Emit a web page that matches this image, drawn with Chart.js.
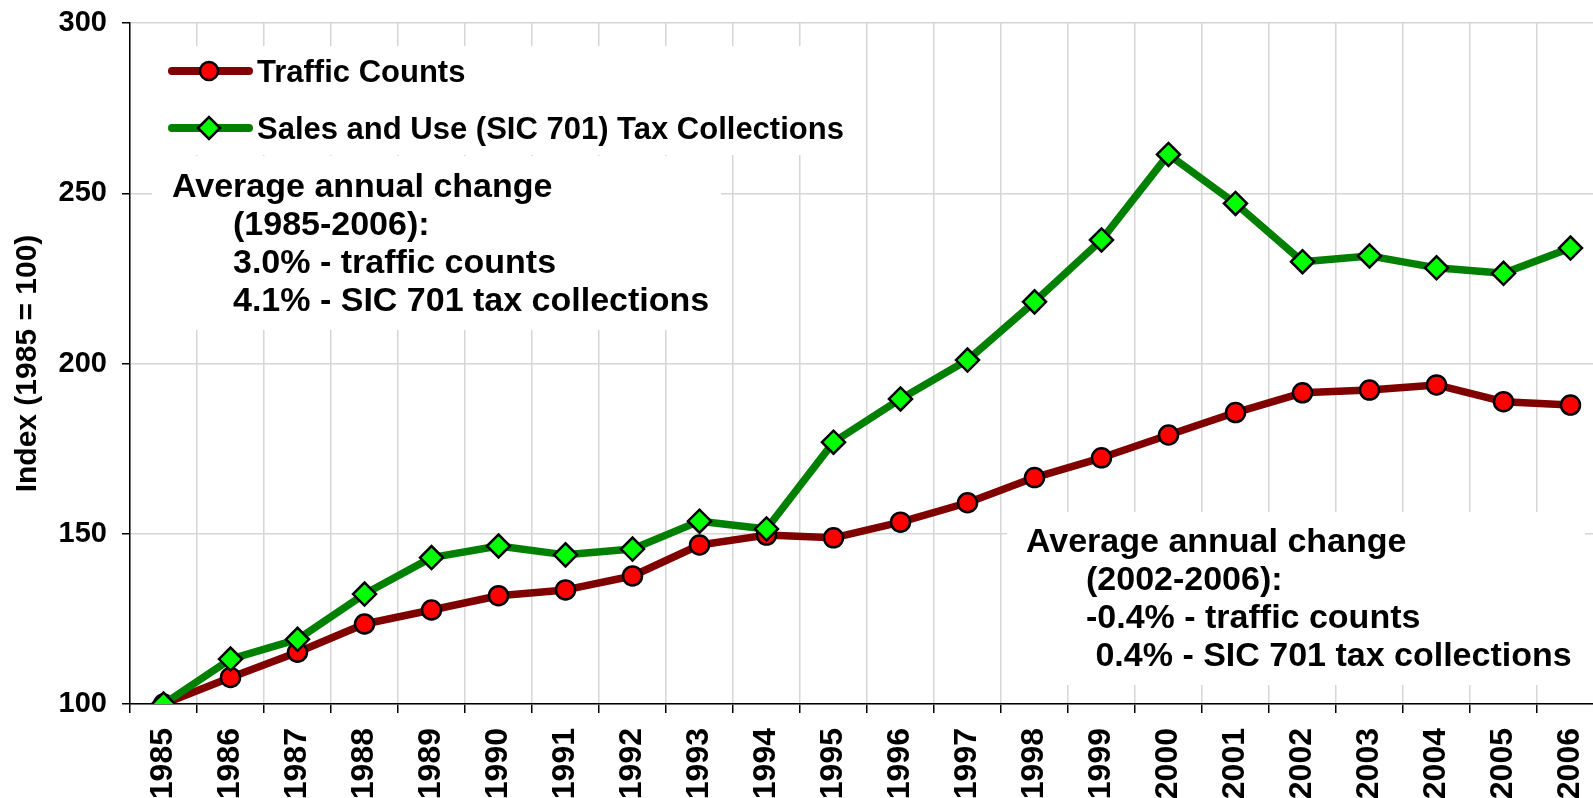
<!DOCTYPE html>
<html>
<head>
<meta charset="utf-8">
<script src="https://cdn.jsdelivr.net/npm/chart.js@4.4.0/dist/chart.umd.min.js"></script>
<style>
  html, body { margin: 0; padding: 0; background: #fff; overflow: hidden; }
</style>
</head>
<body>
<canvas id="indexChart" width="1604" height="798"></canvas>
<script>
// values (1985 = 100)
const years = ['1985', '1986', '1987', '1988', '1989', '1990', '1991', '1992', '1993', '1994', '1995',
  '1996', '1997', '1998', '1999', '2000', '2001', '2002', '2003', '2004', '2005', '2006'];
const trafficCounts = [100, 107.8, 115.2, 123.5, 127.6, 131.8, 133.5, 137.6, 146.7, 149.6, 148.8,
  153.4, 159.1, 166.5, 172.3, 179.0, 185.6, 191.4, 192.2, 193.7, 188.8, 187.8];
const salesTax = [100, 113.2, 119.0, 132.3, 143.0, 146.4, 143.8, 145.5, 153.7, 151.4, 176.9,
  189.6, 201.0, 218.1, 236.3, 261.4, 247.0, 229.9, 231.6, 228.1, 226.5, 233.9];
const seriesNames = ['Traffic Counts', 'Sales and Use (SIC 701) Tax Collections'];
const yTitle = 'Index (1985 = 100)';
const yMin = 100, yMax = 300, yStep = 50;

const noteLong = ['Average annual change', '(1985-2006):', '3.0% - traffic counts', '4.1% - SIC 701 tax collections'];
const noteShort = ['Average annual change', '(2002-2006):', '-0.4% - traffic counts', ' 0.4% - SIC 701 tax collections'];

const axisFont = 'Arial, "Liberation Sans", sans-serif';

// draw a marker the same way for the legend
function marker(ctx, style, x, y, r, fill) {
  ctx.beginPath();
  if (style === 'circle') {
    ctx.arc(x, y, r, 0, Math.PI * 2);
  } else {
    ctx.moveTo(x - r, y);
    ctx.lineTo(x, y - r);
    ctx.lineTo(x + r, y);
    ctx.lineTo(x, y + r);
    ctx.closePath();
  }
  ctx.fillStyle = fill;
  ctx.fill();
  ctx.lineWidth = 2.5;
  ctx.strokeStyle = '#000';
  ctx.stroke();
}

function writeNote(ctx, lines, x, y, indent) {
  ctx.font = 'bold 34px ' + axisFont;
  ctx.fillStyle = '#000';
  ctx.textBaseline = 'alphabetic';
  ctx.textAlign = 'left';
  lines.forEach((t, i) => {
    ctx.fillText(t, i === 0 ? x : x + indent, y + i * 38);
  });
}

// white boxes for the legend and the two notes, drawn over the grid
const boxes = {
  id: 'boxes',
  beforeDatasetsDraw(chart) {
    const ctx = chart.ctx;
    ctx.save();
    ctx.fillStyle = '#fff';
    ctx.fillRect(155, 46, 707, 109);
    ctx.fillRect(152, 156, 569, 174);
    ctx.fillRect(1007, 512, 578, 173);

    // legend
    chart.data.datasets.forEach((ds, i) => {
      const y = 71 + i * 57;
      ctx.beginPath();
      ctx.moveTo(172, y);
      ctx.lineTo(249, y);
      ctx.lineWidth = 8;
      ctx.lineCap = 'round';
      ctx.strokeStyle = ds.borderColor;
      ctx.stroke();
      marker(ctx, ds.pointStyle, 209, y, ds.pointStyle === 'circle' ? 9 : 11, ds.pointBackgroundColor);
      ctx.font = 'bold 31px ' + axisFont;
      ctx.fillStyle = '#000';
      ctx.textBaseline = 'middle';
      ctx.textAlign = 'left';
      ctx.fillText(ds.label, 257, y + 2);
    });

    writeNote(ctx, noteLong, 172, 197, 61);
    writeNote(ctx, noteShort, 1026, 552, 60);
    ctx.restore();
  }
};

const ctx = document.getElementById('indexChart').getContext('2d');
const chart = new Chart(ctx, {
  type: 'line',
  data: {
    labels: years,
    datasets: [{
      label: seriesNames[0],
      data: trafficCounts,
      borderColor: '#800000',
      borderWidth: 7.5,
      pointStyle: 'circle',
      pointRadius: 9.5,
      pointBackgroundColor: '#ff0000',
      pointBorderColor: '#000',
      pointBorderWidth: 2.5,
      borderJoinStyle: 'round',
      tension: 0,
      order: 1
    }, {
      label: seriesNames[1],
      data: salesTax,
      borderColor: '#008000',
      borderWidth: 7.5,
      pointStyle: 'rectRot',
      pointRadius: 11.5,
      pointBackgroundColor: '#00ff00',
      pointBorderColor: '#000',
      pointBorderWidth: 2.5,
      borderJoinStyle: 'round',
      tension: 0,
      order: 0
    }]
  },
  options: {
    responsive: false,
    animation: false,
    layout: { autoPadding: false, padding: { top: 23, right: 0, left: 0, bottom: 0 } },
    plugins: {
      legend: { display: false },
      tooltip: { enabled: false }
    },
    scales: {
      x: {
        offset: true,
        grid: { color: '#d6d6d6', lineWidth: 1.5, offset: true, tickLength: 9, tickColor: '#000', tickWidth: 1.5 },
        border: { color: '#000', width: 1.5 },
        ticks: {
          autoSkip: false,
          maxRotation: 90,
          minRotation: 90,
          padding: 15,
          color: '#000',
          font: { family: axisFont, size: 32, weight: 'bold' }
        },
        afterFit(scale) {
          scale.height = 94;
          scale.paddingLeft = 0;
          scale.paddingRight = 0;
        }
      },
      y: {
        min: yMin,
        max: yMax,
        grid: { color: '#d6d6d6', lineWidth: 1.5, tickLength: 8, tickColor: '#000', tickWidth: 1.5 },
        border: { color: '#000', width: 1.5 },
        ticks: {
          stepSize: yStep,
          padding: 15,
          color: '#000',
          font: { family: axisFont, size: 29, weight: 'bold' }
        },
        title: {
          display: true,
          text: yTitle,
          color: '#000',
          padding: { top: 10, bottom: 0 },
          font: { family: axisFont, size: 30, weight: 'bold' }
        },
        afterFit(scale) {
          scale.width = 130;
          scale.paddingTop = 0;
          scale.paddingBottom = 0;
        }
      }
    }
  },
  plugins: [boxes]
});
</script>
</body>
</html>
